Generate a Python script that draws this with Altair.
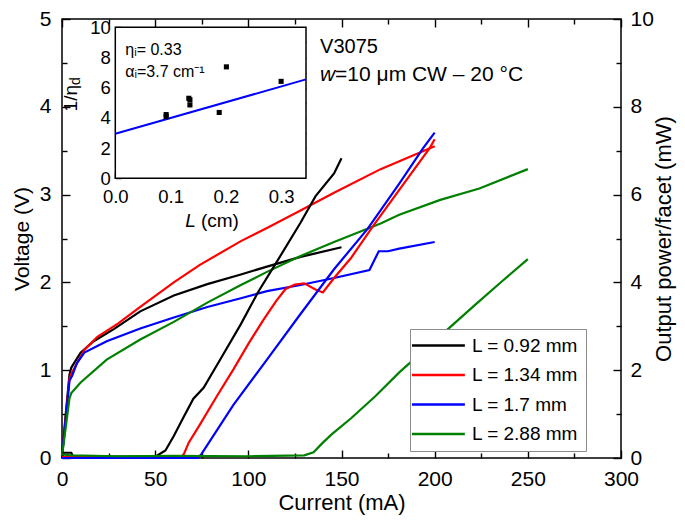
import altair as alt
import pandas as pd

# ---------------- data ----------------
SERIES = ["L = 0.92 mm", "L = 1.34 mm", "L = 1.7 mm", "L = 2.88 mm"]
COLORS = ["#000000", "#ff0000", "#0000ff", "#008000"]

# Voltage (V) vs current (mA)
V_I_092 = [0, 2, 4, 5, 10, 17, 28, 42, 60, 78, 96, 110, 128, 150]
V_092 = [0.02, 0.5, 0.95, 1.03, 1.2, 1.33, 1.47, 1.67, 1.85, 1.98, 2.09, 2.18, 2.29, 2.40]
V_I_134 = [0, 2, 4, 5, 12, 19, 30, 42, 60, 74, 96, 110, 128, 146, 171, 200]
V_134 = [0.02, 0.45, 0.9, 0.96, 1.23, 1.38, 1.53, 1.72, 2.0, 2.2, 2.47, 2.62, 2.82, 3.02, 3.29, 3.55]
V_I_170 = [0, 2, 4, 5.5, 8, 12, 24, 42, 60, 78, 96, 110, 128, 146, 165, 170, 175, 181, 200]
V_170 = [0.02, 0.45, 0.88, 0.94, 1.08, 1.2, 1.33, 1.475, 1.6, 1.72, 1.82, 1.9, 1.97, 2.05, 2.14, 2.355, 2.355, 2.385, 2.46]
V_I_288 = [0, 2, 4, 5, 10, 24, 42, 60, 78, 96, 110, 128, 146, 171, 181, 203, 224, 250]
V_288 = [0.02, 0.35, 0.68, 0.74, 0.86, 1.12, 1.35, 1.55, 1.77, 1.97, 2.12, 2.3, 2.46, 2.67, 2.77, 2.94, 3.07, 3.29]

# Output power/facet (mW) vs current (mA)
P_I_092 = [0, 1, 5, 6, 50, 52, 55.5, 60, 65, 70.5, 76, 85, 96, 105.5, 115, 128, 136, 146, 150]
P_092 = [0.0, 0.12, 0.12, 0.03, 0.03, 0.08, 0.17, 0.5, 0.91, 1.35, 1.6, 2.25, 3.05, 3.8, 4.45, 5.36, 5.96, 6.48, 6.83]
P_I_134 = [0, 64, 65.5, 68, 74, 83, 92, 100, 108, 115, 120, 125, 130, 136, 140, 146, 155, 167, 181, 197.5, 200]
P_134 = [0.02, 0.02, 0.1, 0.35, 0.76, 1.4, 2.02, 2.6, 3.14, 3.58, 3.85, 3.95, 3.98, 3.84, 3.77, 4.1, 4.55, 5.29, 6.11, 7.07, 7.26]
P_I_170 = [0, 73, 75, 92, 110, 128, 146, 164, 181, 194, 200]
P_170 = [0.0, 0.0, 0.1, 1.21, 2.24, 3.28, 4.3, 5.22, 6.25, 7.07, 7.41]
P_I_288 = [0, 5, 30, 60, 100, 130, 135, 140, 145, 155, 168, 181, 195, 208, 222, 236, 250]
P_288 = [0.08, 0.06, 0.04, 0.05, 0.04, 0.06, 0.13, 0.35, 0.55, 0.9, 1.4, 1.95, 2.48, 2.97, 3.5, 4.02, 4.53]

# Inset: 1/eta_d vs cavity length L (cm)
INSET_L = [0.092, 0.092, 0.133, 0.135, 0.135, 0.188, 0.201, 0.300]
INSET_INV_ETA = [4.22, 4.08, 5.30, 5.20, 4.86, 4.36, 7.38, 6.42]
FIT_L = [0.0, 0.345]
FIT_INV_ETA = [2.95, 6.55]

X_MAJOR = [0, 50, 100, 150, 200, 250, 300]
X_MINOR = [25, 75, 125, 175, 225, 275]
V_MAJOR = [0, 1, 2, 3, 4, 5]
V_MINOR = [0.5, 1.5, 2.5, 3.5, 4.5]
P_MAJOR = [0, 2, 4, 6, 8, 10]
P_MINOR = [1, 3, 5, 7, 9]
IX_MAJOR = [0, 0.1, 0.2, 0.3]
IX_MINOR = [0.05, 0.15, 0.25]
IY_MAJOR = [0, 2, 4, 6, 8, 10]
IY_MINOR = [1, 3, 5, 7, 9]

# ---------------- tables ----------------
volt_df = pd.concat([
    pd.DataFrame({"I": i, "V": v, "series": s})
    for i, v, s in zip([V_I_092, V_I_134, V_I_170, V_I_288], [V_092, V_134, V_170, V_288], SERIES)
], ignore_index=True)
power_df = pd.concat([
    pd.DataFrame({"I": i, "P": p, "series": s})
    for i, p, s in zip([P_I_092, P_I_134, P_I_170, P_I_288], [P_092, P_134, P_170, P_288], SERIES)
], ignore_index=True)
inset_df = pd.DataFrame({"L": INSET_L, "inv": INSET_INV_ETA})
fit_df = pd.DataFrame({"L": FIT_L, "inv": FIT_INV_ETA})
frame_df = pd.DataFrame({"L0": [0.0], "L1": [0.345], "Y0": [0.0], "Y1": [10.0]})
one_df = pd.DataFrame({"k": [0]})

# ---------------- layout / style ----------------
FONT = "Liberation Sans"
PAD_T = 11
W, H = 559, 439
MAJ, MINR = 8, 5
IMAJ, IMIN = 6, 3.5
TOP_PAGE = 8 + PAD_T
IX0, IX1 = 53.3, 244.0                         # inset plot extent in pixels
IY0, IY1 = 178.3 - TOP_PAGE, 27.3 - TOP_PAGE


def sx():
    return alt.Scale(domain=[0, 300], nice=False, zero=False)


def sv():
    return alt.Scale(domain=[0, 5], nice=False, zero=False)


def sp():
    return alt.Scale(domain=[0, 10], nice=False, zero=False)


def six():
    return alt.Scale(domain=[0, 0.345], range=[IX0, IX1], nice=False, zero=False)


def siy():
    return alt.Scale(domain=[0, 10], range=[IY0, IY1], nice=False, zero=False)


def tick_axis(orient, values, size, offset, **kw):
    base = dict(orient=orient, values=values, tickSize=size, offset=offset,
                domain=False, grid=False, ticks=True, tickColor="black",
                tickWidth=1.4, labelFlush=False)
    if "labels" not in kw:
        base["labels"] = False
    if "title" not in kw:
        base["title"] = None
    base.update(kw)
    return alt.Axis(**base)


cscale = alt.Scale(domain=SERIES, range=COLORS)
LEG = alt.Legend(orient="none", legendX=348, legendY=310, title=None,
                 symbolType="M-2.75,0H7.25", symbolSize=112, symbolStrokeWidth=2.3,
                 labelOffset=36, labelFontSize=19, labelFont=FONT, labelColor="black",
                 padding=7, rowPadding=9.5, strokeColor="#8c8c8c", fillColor="white",
                 labelLimit=400)

# main voltage lines
volt = alt.Chart(volt_df).mark_line(strokeWidth=2.2).encode(
    x=alt.X("I:Q", scale=sx(), axis=tick_axis(
        "bottom", X_MAJOR, MAJ, -MAJ, labels=True, labelFontSize=21, labelPadding=10,
        title="Current (mA)", titleFontSize=22, titlePadding=3)),
    y=alt.Y("V:Q", scale=sv(), axis=tick_axis(
        "left", V_MAJOR, MAJ, -MAJ, labels=True, labelFontSize=21, labelPadding=11,
        title="Voltage (V)", titleFontSize=21, titlePadding=7)),
    color=alt.Color("series:N", scale=cscale, legend=LEG),
)

# main power lines
power = alt.Chart(power_df).mark_line(strokeWidth=2.2).encode(
    x=alt.X("I:Q", scale=sx(), axis=tick_axis("top", X_MAJOR, MAJ, -MAJ)),
    y=alt.Y("P:Q", scale=sp(), axis=tick_axis(
        "right", P_MAJOR, MAJ, -MAJ, labels=True, labelFontSize=21, labelPadding=9,
        title="Output power/facet (mW)", titleFontSize=22, titlePadding=0,
        titleAngle=270, titleBaseline="top")),
    color=alt.Color("series:N", scale=cscale, legend=LEG),
)

# minor ticks of main axes
minor_v = alt.Chart(volt_df).mark_point(opacity=0).encode(
    x=alt.X("I:Q", scale=sx(), axis=tick_axis("bottom", X_MINOR, MINR, -MINR)),
    y=alt.Y("V:Q", scale=sv(), axis=tick_axis("left", V_MINOR, MINR, -MINR)),
)
minor_p = alt.Chart(power_df).mark_point(opacity=0).encode(
    x=alt.X("I:Q", scale=sx(), axis=tick_axis("top", X_MINOR, MINR, -MINR)),
    y=alt.Y("P:Q", scale=sp(), axis=tick_axis("right", P_MINOR, MINR, -MINR)),
)


def text_layer(txt, x, y, xscale, yscale, **mk):
    style = dict(font=FONT, color="black", align="left", baseline="middle")
    style.update(mk)
    return alt.Chart(one_df).mark_text(text=txt, **style).encode(
        x=alt.XDatum(x, scale=xscale, axis=None, type="quantitative"),
        y=alt.YDatum(y, scale=yscale, axis=None, type="quantitative"),
    )


t_v3075 = text_layer("V3075", 138.5, 4.68, sx(), sv(), fontSize=20)
t_w = text_layer("w", 138.5, 4.36, sx(), sv(), fontSize=21, fontStyle="italic")
t_cond = text_layer("=10 μm CW – 20 °C", 138.5, 4.36, sx(), sv(), fontSize=21, dx=15)

# inset frame (white box) with labelled major axes
inset_frame = alt.Chart(frame_df).mark_rect(fill="white", stroke="black", strokeWidth=1.5).encode(
    x=alt.X("L0:Q", scale=six(), axis=tick_axis(
        "bottom", IX_MAJOR, IMAJ, -(H - IY0) - IMAJ, labels=True, format=".1f",
        labelFontSize=18.5, labelPadding=9.5)),
    x2="L1:Q",
    y=alt.Y("Y0:Q", scale=siy(), axis=tick_axis(
        "left", IY_MAJOR, IMAJ, -(IX0 + IMAJ), labels=True, labelFontSize=18.5, labelPadding=5)),
    y2="Y1:Q",
)
inset_fit = alt.Chart(fit_df).mark_line(color="#0000ff", strokeWidth=2).encode(
    x=alt.X("L:Q", scale=six(), axis=tick_axis("bottom", IX_MINOR, IMIN, -(H - IY0) - IMIN)),
    y=alt.Y("inv:Q", scale=siy(), axis=tick_axis("left", IY_MINOR, IMIN, -(IX0 + IMIN))),
)
inset_pts = alt.Chart(inset_df).mark_square(color="black", size=26, opacity=1).encode(
    x=alt.X("L:Q", scale=six(), axis=tick_axis("top", IX_MAJOR[1:], IMAJ, -(IY1 + IMAJ))),
    y=alt.Y("inv:Q", scale=siy(), axis=tick_axis("right", IY_MAJOR[1:-1], IMAJ, (IX1 - IMAJ) - W)),
)
inset_minor = alt.Chart(inset_df).mark_point(opacity=0).encode(
    x=alt.X("L:Q", scale=six(), axis=tick_axis("top", IX_MINOR, IMIN, -(IY1 + IMIN))),
    y=alt.Y("inv:Q", scale=siy(), axis=tick_axis("right", IY_MINOR, IMIN, (IX1 - IMIN) - W)),
)

t_eta = text_layer("ηᵢ= 0.33", 0.018, 8.5, six(), siy(), fontSize=16)
t_alpha = text_layer("αᵢ=3.7 cm⁻¹", 0.018, 7.05, six(), siy(), fontSize=16)
t_ylab = text_layer("1/η", -0.080, 6.18, six(), siy(), fontSize=19, angle=270, align="right")
t_ysub = text_layer("d", -0.080, 6.18, six(), siy(), fontSize=14, angle=270, align="left", dy=5)
t_xL = text_layer("L", 0.1495, -2.85, six(), siy(), fontSize=19, fontStyle="italic", align="right", dx=-2)
t_xcm = text_layer("(cm)", 0.1495, -2.85, six(), siy(), fontSize=19, dx=3)

chart = alt.layer(
    volt, power, minor_v, minor_p, t_v3075, t_w, t_cond,
    inset_frame, inset_fit, inset_pts, inset_minor,
    t_eta, t_alpha, t_ylab, t_ysub, t_xL, t_xcm,
).resolve_scale(
    x="independent", y="independent", color="shared"
).properties(
    width=W, height=H,
    padding={"left": 54, "top": PAD_T, "right": 56, "bottom": 59},
    autosize=alt.AutoSizeParams(type="none"),
).configure_view(
    stroke="black", strokeWidth=1.5
).configure_axis(
    labelFont=FONT, titleFont=FONT, labelColor="black", titleColor="black",
    titleFontWeight="normal", grid=False, domain=False, labelFlush=False,
)

chart.save("out.html", embed_options={"renderer": "svg", "actions": False})
